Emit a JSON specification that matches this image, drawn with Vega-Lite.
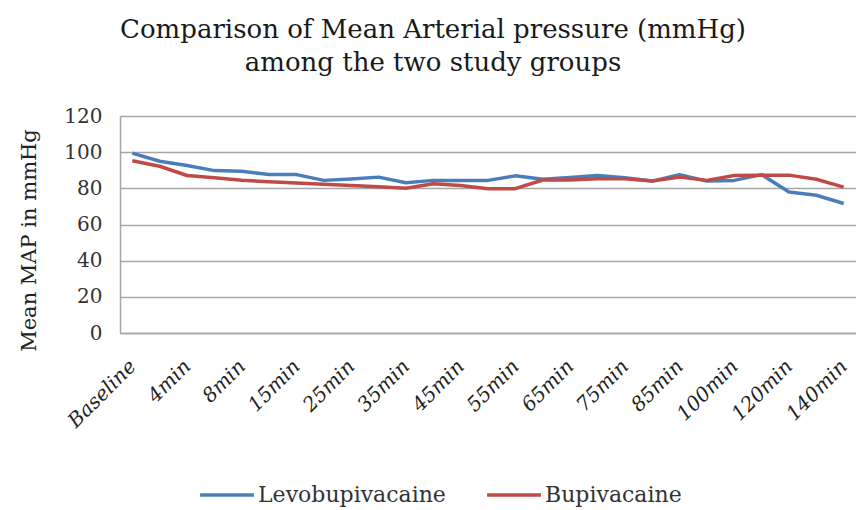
{
  "$schema": "https://vega.github.io/schema/vega-lite/v6.json",
  "width": 736,
  "height": 217,
  "autosize": {"type": "none"},
  "padding": {"left": 120, "top": 116, "right": 0, "bottom": 177},
  "background": "white",
  "title": {
    "text": ["Comparison of Mean Arterial pressure (mmHg)", "among the two study groups"],
    "font": "DejaVu Serif",
    "fontSize": 26,
    "fontWeight": "normal",
    "color": "#1a1a1a",
    "lineHeight": 33,
    "anchor": "middle",
    "frame": "group",
    "dx": -55,
    "offset": 30
  },
  "data": {
    "values": [
      {"t": "Baseline", "g": "Levobupivacaine", "v": 99.5},
      {"t": "2min", "g": "Levobupivacaine", "v": 95},
      {"t": "4min", "g": "Levobupivacaine", "v": 92.6},
      {"t": "6min", "g": "Levobupivacaine", "v": 89.8},
      {"t": "8min", "g": "Levobupivacaine", "v": 89.5},
      {"t": "10min", "g": "Levobupivacaine", "v": 87.6},
      {"t": "15min", "g": "Levobupivacaine", "v": 87.6},
      {"t": "20min", "g": "Levobupivacaine", "v": 84.4},
      {"t": "25min", "g": "Levobupivacaine", "v": 85.2},
      {"t": "30min", "g": "Levobupivacaine", "v": 86.2},
      {"t": "35min", "g": "Levobupivacaine", "v": 83.1},
      {"t": "40min", "g": "Levobupivacaine", "v": 84.4},
      {"t": "45min", "g": "Levobupivacaine", "v": 84.4},
      {"t": "50min", "g": "Levobupivacaine", "v": 84.4},
      {"t": "55min", "g": "Levobupivacaine", "v": 86.9},
      {"t": "60min", "g": "Levobupivacaine", "v": 85},
      {"t": "65min", "g": "Levobupivacaine", "v": 86},
      {"t": "70min", "g": "Levobupivacaine", "v": 87.1},
      {"t": "75min", "g": "Levobupivacaine", "v": 85.8},
      {"t": "80min", "g": "Levobupivacaine", "v": 84},
      {"t": "85min", "g": "Levobupivacaine", "v": 87.6},
      {"t": "90min", "g": "Levobupivacaine", "v": 84},
      {"t": "100min", "g": "Levobupivacaine", "v": 84.4},
      {"t": "110min", "g": "Levobupivacaine", "v": 87.6},
      {"t": "120min", "g": "Levobupivacaine", "v": 78},
      {"t": "130min", "g": "Levobupivacaine", "v": 76.2},
      {"t": "140min", "g": "Levobupivacaine", "v": 71.6},
      {"t": "Baseline", "g": "Bupivacaine", "v": 95.3},
      {"t": "2min", "g": "Bupivacaine", "v": 92.2},
      {"t": "4min", "g": "Bupivacaine", "v": 87.1},
      {"t": "6min", "g": "Bupivacaine", "v": 85.8},
      {"t": "8min", "g": "Bupivacaine", "v": 84.5},
      {"t": "10min", "g": "Bupivacaine", "v": 83.6},
      {"t": "15min", "g": "Bupivacaine", "v": 83},
      {"t": "20min", "g": "Bupivacaine", "v": 82.2},
      {"t": "25min", "g": "Bupivacaine", "v": 81.6},
      {"t": "30min", "g": "Bupivacaine", "v": 80.9},
      {"t": "35min", "g": "Bupivacaine", "v": 80},
      {"t": "40min", "g": "Bupivacaine", "v": 82.5},
      {"t": "45min", "g": "Bupivacaine", "v": 81.6},
      {"t": "50min", "g": "Bupivacaine", "v": 79.8},
      {"t": "55min", "g": "Bupivacaine", "v": 79.8},
      {"t": "60min", "g": "Bupivacaine", "v": 84.6},
      {"t": "65min", "g": "Bupivacaine", "v": 84.6},
      {"t": "70min", "g": "Bupivacaine", "v": 85.3},
      {"t": "75min", "g": "Bupivacaine", "v": 85.3},
      {"t": "80min", "g": "Bupivacaine", "v": 84},
      {"t": "85min", "g": "Bupivacaine", "v": 86.2},
      {"t": "90min", "g": "Bupivacaine", "v": 84.4},
      {"t": "100min", "g": "Bupivacaine", "v": 87.1},
      {"t": "110min", "g": "Bupivacaine", "v": 87.3},
      {"t": "120min", "g": "Bupivacaine", "v": 87.3},
      {"t": "130min", "g": "Bupivacaine", "v": 85},
      {"t": "140min", "g": "Bupivacaine", "v": 80.7}
    ]
  },
  "mark": {"type": "line", "strokeWidth": 3.5, "strokeJoin": "round"},
  "encoding": {
    "x": {
      "field": "t",
      "type": "nominal",
      "sort": null,
      "scale": {"type": "point", "padding": 0.45},
      "axis": {
        "title": null,
        "values": ["Baseline", "4min", "8min", "15min", "25min", "35min", "45min", "55min", "65min", "75min", "85min", "100min", "120min", "140min"],
        "labelAngle": -45,
        "labelAlign": "right",
        "labelBaseline": "middle",
        "labelFont": "DejaVu Serif",
        "labelFontStyle": "italic",
        "labelFontSize": 20,
        "labelColor": "#222222",
        "labelPadding": 30,
        "ticks": false,
        "domainColor": "#a6a6a6",
        "domainWidth": 1.5,
        "grid": false,
        "labelOverlap": false,
        "labelBound": false
      }
    },
    "y": {
      "field": "v",
      "type": "quantitative",
      "scale": {"domain": [0, 120], "nice": false},
      "axis": {
        "title": "Mean MAP in mmHg",
        "titleFont": "DejaVu Serif",
        "titleFontSize": 21,
        "titleFontWeight": "normal",
        "titleColor": "#222222",
        "titlePadding": 24,
        "titleY": 124,
        "values": [0, 20, 40, 60, 80, 100, 120],
        "labelFont": "DejaVu Serif",
        "labelFontSize": 20,
        "labelColor": "#333333",
        "labelPadding": 18,
        "ticks": false,
        "domainColor": "#a6a6a6",
        "domainWidth": 1.5,
        "grid": true,
        "gridColor": "#a6a6a6",
        "gridWidth": 1.5
      }
    },
    "color": {
      "field": "g",
      "type": "nominal",
      "scale": {"domain": ["Levobupivacaine", "Bupivacaine"], "range": ["#4a7ebb", "#be4b48"]},
      "legend": {
        "title": null,
        "orient": "none",
        "direction": "horizontal",
        "legendX": 78,
        "legendY": 350,
        "symbolType": "stroke",
        "symbolSize": 2900,
        "symbolStrokeWidth": 3.5,
        "labelFont": "DejaVu Serif",
        "labelFontSize": 22,
        "labelColor": "#333333",
        "labelOffset": 2,
        "labelLimit": 400,
        "columnPadding": 34
      }
    }
  },
  "config": {"view": {"stroke": null}}
}
